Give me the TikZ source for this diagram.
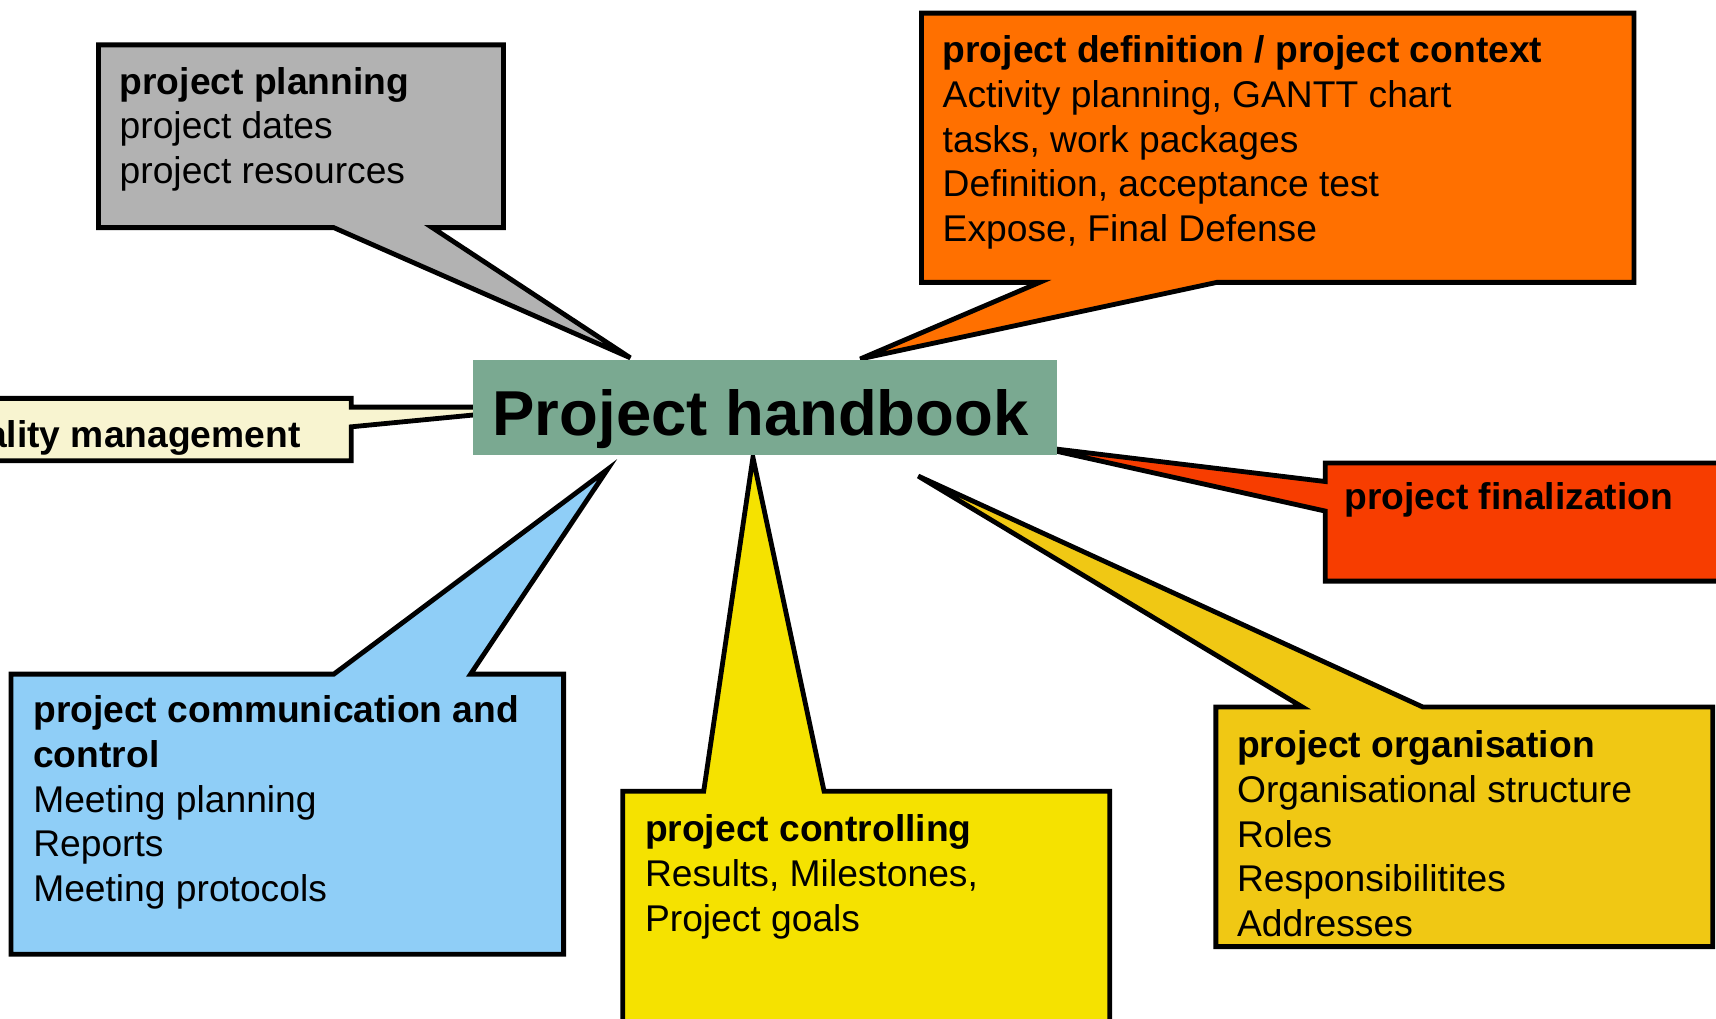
\documentclass[tikz,border=0pt]{standalone}
\usepackage{fontspec}
\setmainfont{Liberation Sans}
\definecolor{cgrey}{RGB}{178,178,178}
\definecolor{corange}{RGB}{255,112,0}
\definecolor{ccream}{RGB}{248,244,208}
\definecolor{cgreen}{RGB}{122,169,145}
\definecolor{cred}{RGB}{247,61,0}
\definecolor{cgold}{RGB}{240,200,20}
\definecolor{cyellow}{RGB}{245,226,0}
\definecolor{cblue}{RGB}{143,206,247}
\begin{document}
\begin{tikzpicture}[x=0.5pt,y=-0.5pt,
  co/.style={draw=black, line width=2.2pt, line join=miter, miter limit=8},
  txt/.style={inner sep=0pt, anchor=base west, font=\fontsize{17}{20.5}\selectfont},
  ttl/.style={inner sep=0pt, anchor=base, font=\fontsize{29}{34}\selectfont\bfseries}]
\useasboundingbox (0,0) rectangle (1568,931);
\fill[white] (0,0) rectangle (1568,931);
\clip (0,0) rectangle (1568,931);
% tips of the callouts
\coordinate (tPlan) at (576,327);
\coordinate (tDef) at (786,328);
\coordinate (tFin) at (946,408);
\coordinate (tOrg) at (839,435);
\coordinate (tCtl) at (688,418);
\coordinate (tCom) at (555,429);
% callouts
\draw[co, fill=cgrey] (90,41) -- (460,41) -- (460,208) -- (395,208) -- (tPlan) -- (305,208) -- (90,208) -- cycle;
\draw[co, fill=corange] (842,12) -- (1493,12) -- (1493,258) -- (1112,258) -- (tDef) -- (950,258) -- (842,258) -- cycle;
\draw[co, fill=ccream] (-80,364) -- (321,364) -- (321,372) -- (445,372) -- (445,378) -- (321,390) -- (321,421) -- (-80,421) -- cycle;
\draw[co, fill=cred] (1211,423) -- (1600,423) -- (1600,531) -- (1211,531) -- (1211,467) -- (tFin) -- (1211,440) -- cycle;
\draw[co, fill=cgold] (1111,646) -- (1190,646) -- (tOrg) -- (1300,646) -- (1565,646) -- (1565,865) -- (1111,865) -- cycle;
\draw[co, fill=cyellow] (569,723) -- (643,723) -- (tCtl) -- (753,723) -- (1014,723) -- (1014,960) -- (569,960) -- cycle;
\draw[co, fill=cblue] (10,616) -- (305,616) -- (tCom) -- (430,616) -- (515,616) -- (515,872) -- (10,872) -- cycle;
% centre
\node (hb) [fill=cgreen, minimum width=267pt, minimum height=43.5pt, inner sep=0pt] at (699,372.5) {};
\node (hbt) [ttl] at (695,398) {Project handbook};
% texts
\node (plan) [txt] at (109,86) {\begin{tabular}[t]{@{}l@{}}\textbf{project planning}\\project dates\\project resources\end{tabular}};
\node (def) [txt] at (861,57) {\begin{tabular}[t]{@{}l@{}}\textbf{project definition / project context}\\Activity planning, GANTT chart\\tasks, work packages\\Definition, acceptance test\\Expose, Final Defense\end{tabular}};
\node (qual) [txt, anchor=base east] at (275,409) {\textbf{quality management}};
\node (fin) [txt] at (1228,466) {\textbf{project finalization}};
\node (com) [txt] at (30,660) {\begin{tabular}[t]{@{}l@{}}\textbf{project communication and}\\\textbf{control}\\Meeting planning\\Reports\\Meeting protocols\end{tabular}};
\node (ctl) [txt] at (589,769) {\begin{tabular}[t]{@{}l@{}}\textbf{project controlling}\\Results, Milestones,\\Project goals\end{tabular}};
\node (org) [txt] at (1130,692) {\begin{tabular}[t]{@{}l@{}}\textbf{project organisation}\\Organisational structure\\Roles\\Responsibilitites\\Addresses\end{tabular}};
\end{tikzpicture}
\end{document}
